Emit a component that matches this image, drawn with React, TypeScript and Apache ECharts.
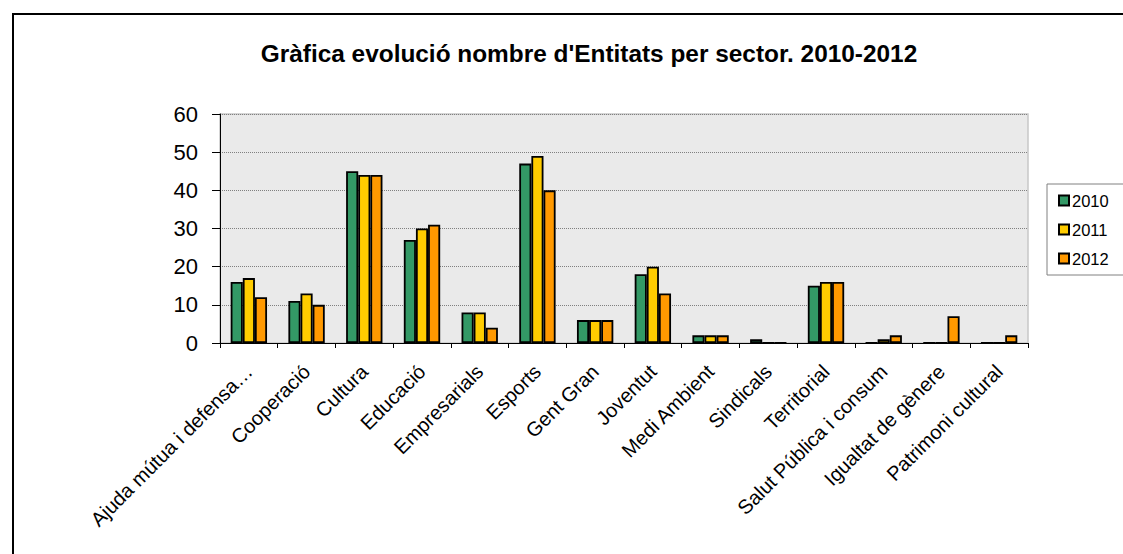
import React, { useEffect, useRef } from "react";
import * as echarts from "echarts";

const categories = [
  "Ajuda mútua i defensa…",
  "Cooperació",
  "Cultura",
  "Educació",
  "Empresarials",
  "Esports",
  "Gent Gran",
  "Joventut",
  "Medi Ambient",
  "Sindicals",
  "Territorial",
  "Salut Pública i consum",
  "Igualtat de gènere",
  "Patrimoni cultural",
];
const years = ["2010", "2011", "2012"];
const values2010 = [16, 11, 45, 27, 8, 47, 6, 18, 2, 1, 15, 0, 0, 0];
const values2011 = [17, 13, 44, 30, 8, 49, 6, 20, 2, 0, 16, 1, 0, 0];
const values2012 = [12, 10, 44, 31, 4, 40, 6, 13, 2, 0, 16, 2, 7, 2];
const colors = ["#339966", "#FFCC00", "#FF9900"];
const titleText = "Gràfica evolució nombre d'Entitats per sector. 2010-2012";

const FONT = "Liberation Sans, Arial, sans-serif";

export default function App() {
  const ref = useRef<HTMLDivElement>(null);
  useEffect(() => {
    if (!ref.current) return;
    const chart = echarts.init(ref.current, null, { renderer: "svg" });
    const seriesData = [values2010, values2011, values2012];
    chart.setOption({
      animation: false,
      backgroundColor: "#ffffff",
      textStyle: { fontFamily: FONT },
      title: {
        text: titleText,
        left: 584,
        top: 36,
        textAlign: "center",
        textStyle: { fontSize: 24.4, fontWeight: "bold", color: "#000", fontFamily: FONT },
      },
      graphic: [
        {
          type: "rect",
          shape: { x: 13, y: 14, width: 1300, height: 700 },
          style: { fill: "none", stroke: "#000", lineWidth: 2 },
          silent: true,
          z: 100,
        },
      ],
      legend: {
        orient: "vertical",
        left: 1047,
        top: 184,
        width: 90,
        padding: [8, 20, 8, 11],
        itemGap: 12,
        itemWidth: 10,
        itemHeight: 10,
        borderColor: "#808080",
        borderWidth: 1,
        icon: "rect",
        data: years,
        textStyle: { fontSize: 16.5, color: "#000", padding: [0, 0, 0, -2], fontFamily: FONT },
      },
      grid: {
        left: 220,
        top: 114,
        right: 95,
        bottom: 211,
        containLabel: false,
        show: true,
        backgroundColor: "#EAEAEA",
        borderColor: "#C8C8C8",
        borderWidth: 1.5,
      },
      xAxis: {
        type: "category",
        data: categories,
        axisLine: { show: true, lineStyle: { color: "#000", width: 1 } },
        axisTick: { show: true, length: 5, lineStyle: { color: "#000" } },
        axisLabel: {
          rotate: 45,
          fontSize: 20,
          color: "#000",
          margin: 11,
          interval: 0,
          verticalAlign: "top",
          padding: [0, 10, 0, 0],
          fontFamily: FONT,
        },
      },
      yAxis: {
        type: "value",
        min: 0,
        max: 60,
        interval: 10,
        axisLine: { show: true, lineStyle: { color: "#000", width: 1 } },
        axisTick: { show: true, length: 8, lineStyle: { color: "#000" } },
        axisLabel: { fontSize: 22, color: "#000", margin: 22, fontFamily: FONT },
        splitLine: { show: true, lineStyle: { color: "#808080", type: [1, 1], width: 1 } },
      },
      series: years.map((y, i) => ({
        name: y,
        type: "bar",
        data: seriesData[i],
        barGap: "0%",
        barCategoryGap: "37%",
        itemStyle: { color: colors[i], borderColor: "#000", borderWidth: 1.8 },
      })),
    });
    return () => chart.dispose();
  }, []);
  return <div ref={ref} style={{ position: "fixed", left: 0, top: 0, width: 1123, height: 554 }} />;
}
